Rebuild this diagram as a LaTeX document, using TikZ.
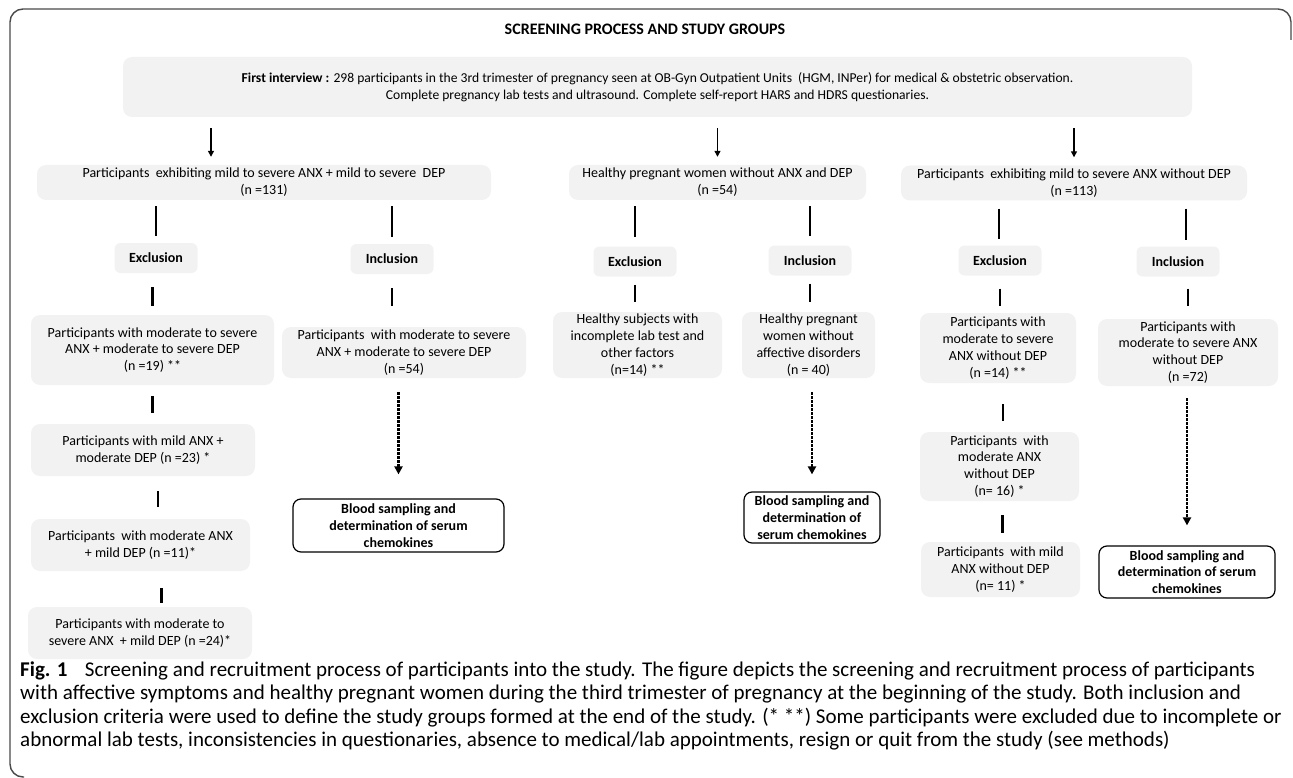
\documentclass[tikz,border=0pt]{standalone}
\usepackage{fontspec}
\setmainfont{Carlito}
\usetikzlibrary{arrows.meta}
\definecolor{boxgray}{HTML}{F2F2F2}
\definecolor{framegray}{HTML}{4A4A4A}
\newcommand{\boxfont}{\fontsize{14}{16.8}\selectfont}
\newcommand{\topfont}{\fontsize{13.6}{17}\selectfont}
\newcommand{\capfont}{\fontsize{21}{23}\selectfont}
\begin{document}
\begin{tikzpicture}[x=1pt,y=-1pt,
  gbox/.style={fill=boxgray, rounded corners=9pt, inner sep=0pt, align=center, font=\boxfont},
  lbox/.style={fill=boxgray, rounded corners=6pt, inner sep=0pt, align=center, font=\boxfont\bfseries, minimum width=83pt, minimum height=30pt},
  bbox/.style={draw=black, line width=1.2pt, fill=white, rounded corners=8pt, inner sep=0pt, align=center, font=\boxfont\bfseries},
  vline/.style={line width=2.3pt},
  arr/.style={line width=1.3pt, -{Triangle[length=6pt,width=6pt]}},
  darr/.style={line width=2.4pt, dash pattern=on 2.4pt off 1.6pt, -{Triangle[length=8pt,width=8pt]}},
  capline/.style={anchor=base west, inner sep=0pt, font=\capfont}
]
\useasboundingbox (0,0) rectangle (1293,778);
% frame
\draw[framegray, line width=1.4pt, rounded corners=13pt] (24,777) -- (10,777) -- (10,9) -- (1291,9) -- (1291,40);

% title
\node[font=\fontsize{16}{19}\selectfont\bfseries, inner sep=0pt] (title) at (645,29) {SCREENING PROCESS AND STUDY GROUPS};

% top box
\node[gbox, font=\topfont, minimum width=1069pt, minimum height=60pt] (top) at (657.5,87)
 {\textbf{First interview :} 298 participants in the 3rd trimester of pregnancy seen at OB-Gyn Outpatient Units~~(HGM, INPer) for medical \& obstetric observation.\\
  Complete pregnancy lab tests and ultrasound. Complete self-report HARS and HDRS questionaries.};

% group boxes
\node[gbox, minimum width=454pt, minimum height=35pt] (g1) at (264,182.5)
 {Participants~~exhibiting mild to severe ANX + mild to severe~~DEP\\(n =131)};
\node[gbox, minimum width=297pt, minimum height=35pt] (g2) at (717.5,182.5)
 {Healthy pregnant women without ANX and DEP\\(n =54)};
\node[gbox, minimum width=346pt, minimum height=35pt] (g3) at (1074,183)
 {Participants~~exhibiting mild to severe ANX without DEP\\(n =113)};

\coordinate (a1) at (211,0);
\draw[arr, shorten <=11pt, shorten >=8pt] (top.south -| a1) -- (g1.north -| a1);
\draw[arr, shorten <=11pt, shorten >=8pt] (top.south -| g2.north) -- (g2.north);
\draw[arr, shorten <=11pt, shorten >=8pt] (top.south -| g3.north) -- (g3.north);

% exclusion / inclusion labels
\node[lbox] (ex1) at (156,258) {Exclusion};
\node[lbox] (in1) at (392,259) {Inclusion};
\node[lbox] (ex2) at (635,261.5) {Exclusion};
\node[lbox] (in2) at (810,260.5) {Inclusion};
\node[lbox] (ex3) at (1000,260.5) {Exclusion};
\node[lbox] (in3) at (1178,261.5) {Inclusion};

\draw[vline, shorten <=6pt, shorten >=7pt] (g1.south -| ex1.north) -- (ex1.north);
\draw[vline, shorten <=6pt, shorten >=7pt] (g1.south -| in1.north) -- (in1.north);
\draw[vline, shorten <=6pt, shorten >=9pt] (g2.south -| ex2.north) -- (ex2.north);
\draw[vline, shorten <=6pt, shorten >=9pt] (g2.south -| in2.north) -- (in2.north);
\draw[vline, shorten <=8pt, shorten >=6pt] ([xshift=-1pt]g3.south -| ex3.north) -- ([xshift=-1pt]ex3.north);
\draw[vline, shorten <=8pt, shorten >=6pt] ([xshift=8pt]g3.south -| in3.north) -- ([xshift=8pt]in3.north);

% column 1
\node[gbox, minimum width=243pt, minimum height=70pt] (e1a) at (152.5,350)
 {Participants with moderate to severe\\ANX + moderate to severe DEP\\(n =19) **};
\node[gbox, minimum width=224pt, minimum height=52pt] (e1b) at (143,450)
 {Participants with mild ANX +\\moderate DEP (n =23) *};
\node[gbox, minimum width=219pt, minimum height=52pt] (e1c) at (140.5,545)
 {Participants~~with moderate ANX\\+ mild DEP (n =11)*};
\node[gbox, minimum width=224pt, minimum height=52pt] (e1d) at (140,633)
 {Participants with moderate to\\severe ANX~~+ mild DEP (n =24)*};
\node[gbox, minimum width=244pt, minimum height=51pt] (i1a) at (404,352.5)
 {Participants~~with moderate to severe\\ANX + moderate to severe DEP\\(n =54)};
\node[bbox, minimum width=211pt, minimum height=53pt] (b1) at (398.5,525.5)
 {Blood sampling and\\determination of serum\\chemokines};

\draw[vline, shorten <=14pt, shorten >=9pt] (ex1.south -| e1a.north) -- (e1a.north);
\draw[vline, shorten <=14pt, shorten >=21pt] (in1.south) -- (in1.south |- i1a.north);
\draw[vline, shorten <=11pt, shorten >=11pt] (e1a.south) -- (e1a.south |- e1b.north);
\draw[vline, shorten <=15pt, shorten >=12pt] ([xshift=15pt]e1b.south) -- ([xshift=15pt]e1b.south |- e1c.north);
\draw[vline, shorten <=17pt, shorten >=4pt] ([xshift=21pt]e1c.south) -- ([xshift=21pt]e1c.south |- e1d.north);
\draw[darr, shorten <=14pt, shorten >=24pt] (i1a.south -| b1.north) -- (b1.north);

% column 2
\node[gbox, minimum width=169pt, minimum height=66pt] (e2a) at (637.5,345)
 {Healthy subjects with\\incomplete lab test and\\other factors\\(n=14) **};
\node[gbox, minimum width=133pt, minimum height=66pt] (i2a) at (808.5,345)
 {Healthy pregnant\\women without\\affective disorders\\(n = 40)};
\node[bbox, minimum width=136pt, minimum height=51pt] (b2) at (812,517.5)
 {Blood sampling and\\determination of\\serum chemokines};

\draw[vline, shorten <=8pt, shorten >=10pt] (ex2.south) -- (ex2.south |- e2a.north);
\draw[vline, shorten <=8pt, shorten >=10pt] (in2.south) -- (in2.south |- i2a.north);
\draw[darr, shorten <=14pt, shorten >=17pt] (i2a.south -| b2.north) -- (b2.north);

% column 3
\node[gbox, minimum width=156pt, minimum height=70pt] (e3a) at (998,348)
 {Participants with\\moderate to severe\\ANX without DEP\\(n =14) **};
\node[gbox, minimum width=159pt, minimum height=69pt] (e3b) at (999.5,466.5)
 {Participants~~with\\moderate ANX\\without DEP\\(n= 16) *};
\node[gbox, minimum width=159pt, minimum height=55pt] (e3c) at (1000.5,569.5)
 {Participants~~with mild\\ANX without DEP\\(n= 11) *};
\node[gbox, minimum width=180pt, minimum height=67pt] (i3a) at (1188,352.5)
 {Participants with\\moderate to severe ANX\\without DEP\\(n =72)};
\node[bbox, minimum width=176pt, minimum height=52pt] (b3) at (1187,572)
 {Blood sampling and\\determination of serum\\chemokines};

\draw[vline, shorten <=13pt, shorten >=7pt] (ex3.south) -- (ex3.south |- e3a.north);
\draw[vline, shorten <=12pt, shorten >=13pt] ([xshift=10pt]in3.south) -- ([xshift=10pt]in3.south |- i3a.north);
\draw[vline, shorten <=21pt, shorten >=11pt] ([xshift=5pt]e3a.south) -- ([xshift=5pt]e3a.south |- e3b.north);
\draw[vline, shorten <=14pt, shorten >=9pt] ([xshift=3pt]e3b.south) -- ([xshift=3pt]e3b.south |- e3c.north);
\draw[darr, shorten <=12pt, shorten >=20pt] (i3a.south -| b3.north) -- (b3.north);

% caption
\node[capline] (c1) at (20,676) {\textbf{Fig. 1}\hspace{0.6em} Screening and recruitment process of participants into the study. The figure depicts the screening and recruitment process of participants};
\node[capline] (c2) at (20,699.5) {with affective symptoms and healthy pregnant women during the third trimester of pregnancy at the beginning of the study. Both inclusion and};
\node[capline] (c3) at (20,723) {exclusion criteria were used to define the study groups formed at the end of the study. (* **) Some participants were excluded due to incomplete or};
\node[capline] (c4) at (20,746.5) {abnormal lab tests, inconsistencies in questionaries, absence to medical/lab appointments, resign or quit from the study (see methods)};
\end{tikzpicture}
\end{document}
